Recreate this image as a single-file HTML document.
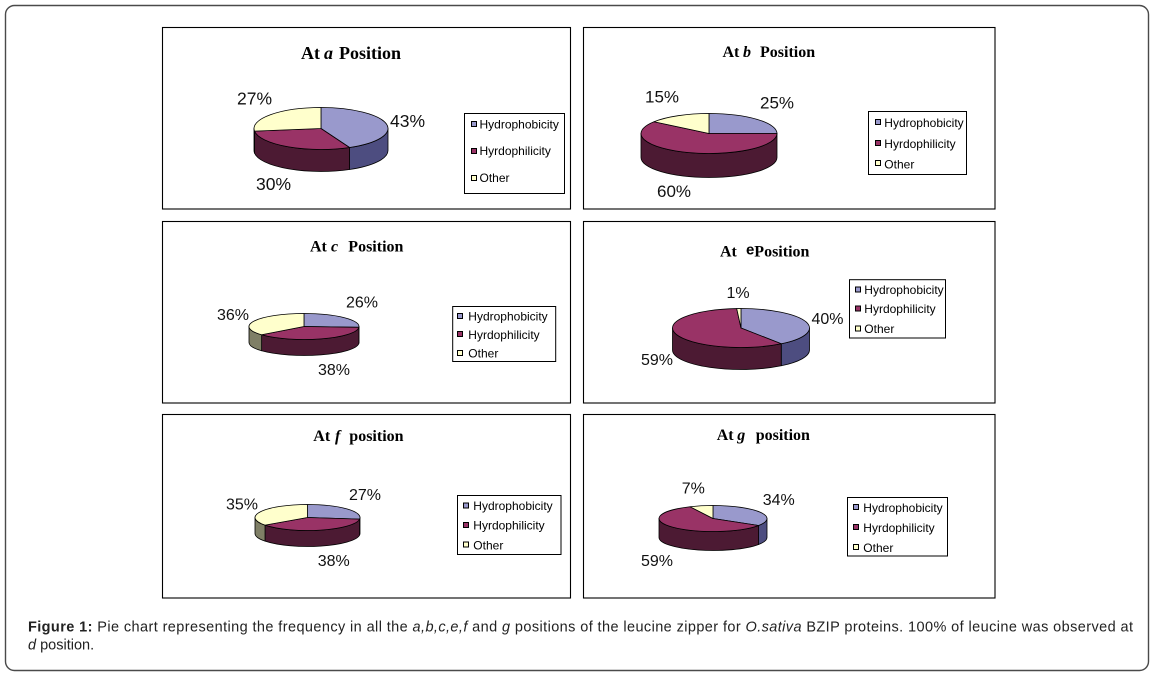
<!DOCTYPE html>
<html>
<head>
<meta charset="utf-8">
<style>
html,body{margin:0;padding:0;background:#fff;}
svg{display:block;}
.t{font-family:"Liberation Serif",serif;font-weight:bold;fill:#000;}
.p{font-family:"Liberation Sans",sans-serif;fill:#111;}
.l{font-family:"Liberation Sans",sans-serif;font-size:12px;fill:#000;}
.c{font-family:"Liberation Sans",sans-serif;font-size:14.5px;fill:#222;}
.pie path{stroke:#000;stroke-width:0.8;stroke-linejoin:round;}
.hT{fill:#9999cc}.hS{fill:#4d4d80}
.rT{fill:#993366}.rS{fill:#4c1a33}
.oT{fill:#ffffcc}.oS{fill:#7f7f66}
.mk{stroke:#000;stroke-width:1;}
</style>
</head>
<body>
<svg width="1153" height="677" viewBox="0 0 1153 677" xmlns="http://www.w3.org/2000/svg">
<!-- outer frame -->
<rect x="5.5" y="5.5" width="1143" height="665" rx="9" ry="9" fill="#fff" stroke="#4a4a4a" stroke-width="1.4"/>

<!-- panel frames -->
<g fill="none" stroke="#000" stroke-width="1.1">
<rect x="162.5" y="27.5" width="408" height="181.5"/>
<rect x="583.5" y="27.5" width="411.5" height="181.5"/>
<rect x="162.5" y="221.5" width="408" height="181.5"/>
<rect x="583.5" y="221.5" width="411.5" height="181.5"/>
<rect x="162.5" y="414.5" width="408" height="183.5"/>
<rect x="583.5" y="414.5" width="411.5" height="183.5"/>
</g>

<!-- ===== Panel 1: At a Position ===== -->
<text class="t" font-size="18" y="59"><tspan x="301">At</tspan><tspan x="324" font-style="italic">a</tspan><tspan x="339">Position</tspan></text>
<g class="pie">
<path class="hS" d="M388,128.5 A67,21 0 0 1 349.53,147.5 L349.53,169.5 A67,21 0 0 0 388,150.5 Z"/>
<path class="rS" d="M349.53,147.5 A67,21 0 0 1 254.53,131.13 L254.53,153.13 A67,21 0 0 0 349.53,169.5 Z"/>
<path class="oS" d="M254.53,131.13 A67,21 0 0 1 254,128.5 L254,150.5 A67,21 0 0 0 254.53,153.13 Z"/>
<path class="hT" d="M321,128.5 L321,107.5 A67,21 0 0 1 349.53,147.5 Z"/>
<path class="rT" d="M321,128.5 L349.53,147.5 A67,21 0 0 1 254.53,131.13 Z"/>
<path class="oT" d="M321,128.5 L254.53,131.13 A67,21 0 0 1 321,107.5 Z"/>
</g>
<text class="p" font-size="17.5" x="237" y="104.5">27%</text>
<text class="p" font-size="17.5" x="390" y="127">43%</text>
<text class="p" font-size="17.5" x="256" y="190">30%</text>
<rect x="464.5" y="113.5" width="100" height="80" fill="#fff" stroke="#000"/>
<rect class="mk hT" x="471.5" y="121.5" width="5" height="5"/>
<rect class="mk rT" x="471.5" y="148.5" width="5" height="5"/>
<rect class="mk oT" x="471.5" y="175.5" width="5" height="5"/>
<text class="l" x="479.5" y="128.5">Hydrophobicity</text>
<text class="l" x="479.5" y="155">Hyrdophilicity</text>
<text class="l" x="479.5" y="182">Other</text>

<!-- ===== Panel 2: At b Position ===== -->
<text class="t" font-size="16" y="57"><tspan x="722.5">At</tspan><tspan x="743" font-style="italic">b</tspan><tspan x="760">Position</tspan></text>
<g class="pie">
<path class="rS" d="M777,133.5 A68,20 0 0 1 641,133.5 L641,157.5 A68,20 0 0 0 777,157.5 Z"/>
<path class="hT" d="M709,133.5 L709,113.5 A68,20 0 0 1 777,133.5 Z"/>
<path class="rT" d="M709,133.5 L777,133.5 A68,20 0 1 1 653.99,121.74 Z"/>
<path class="oT" d="M709,133.5 L653.99,121.74 A68,20 0 0 1 709,113.5 Z"/>
</g>
<text class="p" font-size="17" x="645" y="102.5">15%</text>
<text class="p" font-size="17" x="760" y="108.5">25%</text>
<text class="p" font-size="17" x="657" y="197">60%</text>
<rect x="868.5" y="111.5" width="98" height="63" fill="#fff" stroke="#000"/>
<rect class="mk hT" x="875.5" y="119.5" width="5" height="5"/>
<rect class="mk rT" x="875.5" y="140.5" width="5" height="5"/>
<rect class="mk oT" x="875.5" y="160.5" width="5" height="5"/>
<text class="l" x="884.3" y="127">Hydrophobicity</text>
<text class="l" x="884.3" y="148">Hyrdophilicity</text>
<text class="l" x="884.3" y="168.5">Other</text>

<!-- ===== Panel 3: At c Position ===== -->
<text class="t" font-size="16" y="251.5"><tspan x="310">At</tspan><tspan x="331" font-style="italic">c</tspan><tspan x="348.3">Position</tspan></text>
<g class="pie">
<path class="hS" d="M359,326.5 A55,13 0 0 1 358.89,327.32 L358.89,343.32 A55,13 0 0 0 359,342.5 Z"/>
<path class="rS" d="M358.89,327.32 A55,13 0 0 1 261.62,334.79 L261.62,350.79 A55,13 0 0 0 358.89,343.32 Z"/>
<path class="oS" d="M261.62,334.79 A55,13 0 0 1 249,326.5 L249,342.5 A55,13 0 0 0 261.62,350.79 Z"/>
<path class="hT" d="M304,326.5 L304,313.5 A55,13 0 0 1 358.89,327.32 Z"/>
<path class="rT" d="M304,326.5 L358.89,327.32 A55,13 0 0 1 261.62,334.79 Z"/>
<path class="oT" d="M304,326.5 L261.62,334.79 A55,13 0 0 1 304,313.5 Z"/>
</g>
<text class="p" font-size="16" x="217" y="320">36%</text>
<text class="p" font-size="16" x="346" y="307.5">26%</text>
<text class="p" font-size="16" x="318" y="375">38%</text>
<rect x="452.7" y="306.5" width="103" height="55" fill="#fff" stroke="#000"/>
<rect class="mk hT" x="457.5" y="313.5" width="5" height="5" stroke-width="1.5"/>
<rect class="mk rT" x="457.5" y="331.5" width="5" height="5" stroke-width="1.5"/>
<rect class="mk oT" x="457.5" y="350.5" width="5" height="5" stroke-width="1.5"/>
<text class="l" x="468.3" y="320.5">Hydrophobicity</text>
<text class="l" x="468.3" y="339">Hyrdophilicity</text>
<text class="l" x="468.3" y="357.5">Other</text>

<!-- ===== Panel 4: At e Position ===== -->
<text class="t" font-size="16" y="256.5"><tspan x="720">At</tspan><tspan x="746" font-family="Liberation Sans" font-size="15" dy="-2">e</tspan><tspan x="754.3" dy="2">Position</tspan></text>
<g class="pie">
<path class="hS" d="M809.5,328 A68.5,19.5 0 0 1 781.26,343.78 L781.26,365.78 A68.5,19.5 0 0 0 809.5,350 Z"/>
<path class="rS" d="M781.26,343.78 A68.5,19.5 0 0 1 672.5,328 L672.5,350 A68.5,19.5 0 0 0 781.26,365.78 Z"/>
<path class="hT" d="M741,328 L741,308.5 A68.5,19.5 0 0 1 781.26,343.78 Z"/>
<path class="rT" d="M741,328 L781.26,343.78 A68.5,19.5 0 1 1 736.70,308.54 Z"/>
<path class="oT" d="M741,328 L736.70,308.54 A68.5,19.5 0 0 1 741,308.5 Z"/>
</g>
<text class="p" font-size="16" x="726.5" y="298">1%</text>
<text class="p" font-size="16" x="811.5" y="324">40%</text>
<text class="p" font-size="16" x="641" y="365">59%</text>
<rect x="849.5" y="279.7" width="96" height="58.3" fill="#fff" stroke="#000"/>
<rect class="mk hT" x="855.5" y="287" width="5" height="5"/>
<rect class="mk rT" x="855.5" y="306" width="5" height="5"/>
<rect class="mk oT" x="855.5" y="326" width="5" height="5"/>
<text class="l" x="864.3" y="294">Hydrophobicity</text>
<text class="l" x="864.3" y="313">Hyrdophilicity</text>
<text class="l" x="864.3" y="333">Other</text>

<!-- ===== Panel 5: At f position ===== -->
<text class="t" font-size="16" y="441"><tspan x="313.3">At</tspan><tspan x="335" font-style="italic">f</tspan><tspan x="349.3">position</tspan></text>
<g class="pie">
<path class="hS" d="M360,517.5 A52.5,13 0 0 1 359.59,519.13 L359.59,535.13 A52.5,13 0 0 0 360,533.5 Z"/>
<path class="rS" d="M359.59,519.13 A52.5,13 0 0 1 265.03,525.14 L265.03,541.14 A52.5,13 0 0 0 359.59,535.13 Z"/>
<path class="oS" d="M265.03,525.14 A52.5,13 0 0 1 255,517.5 L255,533.5 A52.5,13 0 0 0 265.03,541.14 Z"/>
<path class="hT" d="M307.5,517.5 L307.5,504.5 A52.5,13 0 0 1 359.59,519.13 Z"/>
<path class="rT" d="M307.5,517.5 L359.59,519.13 A52.5,13 0 0 1 265.03,525.14 Z"/>
<path class="oT" d="M307.5,517.5 L265.03,525.14 A52.5,13 0 0 1 307.5,504.5 Z"/>
</g>
<text class="p" font-size="16" x="226" y="509.5">35%</text>
<text class="p" font-size="16" x="349" y="500">27%</text>
<text class="p" font-size="16" x="317.7" y="566">38%</text>
<rect x="457.5" y="495.5" width="103.5" height="59" fill="#fff" stroke="#000"/>
<rect class="mk hT" x="463.5" y="503" width="5" height="5" stroke-width="1.5"/>
<rect class="mk rT" x="463.5" y="522.5" width="5" height="5" stroke-width="1.5"/>
<rect class="mk oT" x="463.5" y="542" width="5" height="5" stroke-width="1.5"/>
<text class="l" x="473.3" y="510">Hydrophobicity</text>
<text class="l" x="473.3" y="529.5">Hyrdophilicity</text>
<text class="l" x="473.3" y="549.3">Other</text>

<!-- ===== Panel 6: At g position ===== -->
<text class="t" font-size="16" y="440"><tspan x="716.7">At</tspan><tspan x="737.3" font-style="italic">g</tspan><tspan x="755.7">position</tspan></text>
<g class="pie">
<path class="hS" d="M767,518.5 A54,13 0 0 1 758.59,525.47 L758.59,544.47 A54,13 0 0 0 767,537.5 Z"/>
<path class="rS" d="M758.59,525.47 A54,13 0 0 1 659,518.5 L659,537.5 A54,13 0 0 0 758.59,544.47 Z"/>
<path class="hT" d="M713,518.5 L713,505.5 A54,13 0 0 1 758.59,525.47 Z"/>
<path class="rT" d="M713,518.5 L758.59,525.47 A54,13 0 1 1 690.01,506.74 Z"/>
<path class="oT" d="M713,518.5 L690.01,506.74 A54,13 0 0 1 713,505.5 Z"/>
</g>
<text class="p" font-size="16" x="681.7" y="493.5">7%</text>
<text class="p" font-size="16" x="762.7" y="505">34%</text>
<text class="p" font-size="16" x="641" y="566">59%</text>
<rect x="847.5" y="497.5" width="100" height="58.5" fill="#fff" stroke="#000"/>
<rect class="mk hT" x="853.5" y="504.5" width="5" height="5"/>
<rect class="mk rT" x="853.5" y="524.5" width="5" height="5"/>
<rect class="mk oT" x="853.5" y="544.5" width="5" height="5"/>
<text class="l" x="863.3" y="512">Hydrophobicity</text>
<text class="l" x="863.3" y="532">Hyrdophilicity</text>
<text class="l" x="863.3" y="552">Other</text>

<!-- caption -->
<text class="c" x="28" y="631.5" textLength="1105" lengthAdjust="spacing"><tspan font-weight="bold">Figure 1:</tspan> Pie chart representing the frequency in all the <tspan font-style="italic">a,b,c,e,f</tspan> and <tspan font-style="italic">g</tspan> positions of the leucine zipper for <tspan font-style="italic">O.sativa</tspan>  BZIP proteins. 100% of leucine was observed at</text>
<text class="c" x="28" y="649.5"><tspan font-style="italic">d</tspan> position.</text>
</svg>
</body>
</html>
